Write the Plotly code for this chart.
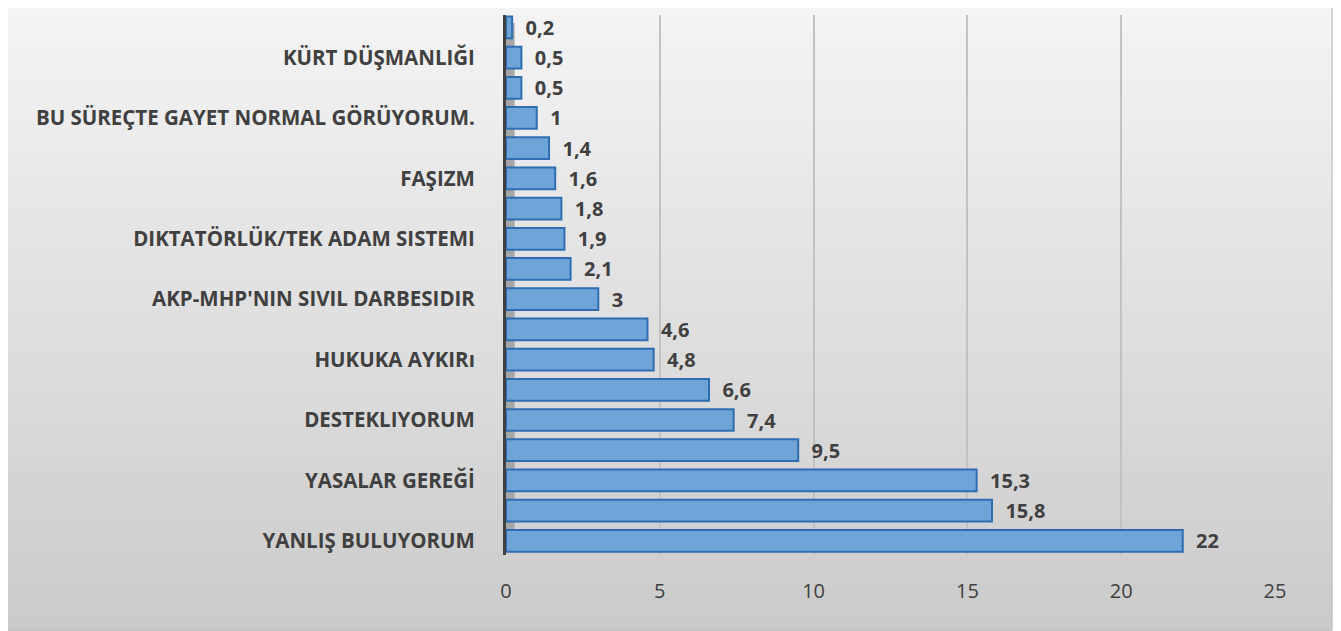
import plotly.graph_objects as go

# Data (bottom to top)
values = [22, 15.8, 15.3, 9.5, 7.4, 6.6, 4.8, 4.6, 3, 2.1, 1.9, 1.8, 1.6, 1.4, 1, 0.5, 0.5, 0.2]
labels = ["YANLIŞ BULUYORUM", "", "YASALAR GEREĞİ", "", "DESTEKLIYORUM", "",
          "HUKUKA AYKIRı", "", "AKP-MHP'NIN SIVIL DARBESIDIR", "",
          "DIKTATÖRLÜK/TEK ADAM SISTEMI", "", "FAŞIZM", "",
          "BU SÜREÇTE GAYET NORMAL GÖRÜYORUM.", "", "KÜRT DÜŞMANLIĞI", ""]
x_ticks = [0, 5, 10, 15, 20, 25]

positions = list(range(len(values)))
text = ["\u00a0\u00a0" + f"{v:g}".replace(".", ",") for v in values]
tick_pos = [p for p, l in zip(positions, labels) if l]
tick_txt = [l for l in labels if l]

FONT = "Open Sans"
fig = go.Figure()
fig.add_trace(go.Bar(
    x=values, y=positions, orientation="h",
    marker=dict(color="#6fa4d8", line=dict(color="#2e6db1", width=2)),
    width=0.72,
    text=text, textposition="outside", cliponaxis=False, constraintext="none",
    textfont=dict(family=FONT, size=20, color="#404040", weight="bold"),
    hoverinfo="skip",
))

# page offset compensation: figure drawn at (8,8) in window
W, H = 1333, 623
L, R, T, B = 498, 66, 7, 76
pw, ph = W - L - R, H - T - B
def px_x(x):
    return (x - 8 - L) / pw
def px_y(y):
    return (H - B - (y - 8)) / ph

shapes = []
n = 40
top = (244, 244, 244)
bot = (203, 203, 203)
x_l, x_r = px_x(5), px_x(1332)
y_top, y_bot = px_y(0), px_y(630)
for i in range(n):
    t = i / (n - 1)
    c = tuple(int(round(top[k] + (bot[k] - top[k]) * t)) for k in range(3))
    ya = y_top - (y_top - y_bot) * i / n
    yb = y_top - (y_top - y_bot) * (i + 1) / n
    shapes.append(dict(type="rect", xref="paper", yref="paper", x0=x_l, x1=x_r,
                       y0=yb - 0.002, y1=ya, fillcolor="rgb(%d,%d,%d)" % c,
                       line=dict(width=0), layer="below"))
shapes.append(dict(type="rect", xref="paper", yref="paper", x0=x_l, x1=x_r,
                   y0=y_bot, y1=y_top, line=dict(color="#bfbfbf", width=1),
                   fillcolor="rgba(0,0,0,0)", layer="below"))
# side wall
shapes.append(dict(type="rect", xref="x", yref="paper", x0=0, x1=0.28, y0=0.015, y1=0.985,
                   fillcolor="#a6a6a6", line=dict(width=0), layer="below"))

fig.update_layout(
    width=W, height=H,
    margin=dict(l=L, r=R, t=T, b=B),
    paper_bgcolor="#e2e2e2", plot_bgcolor="rgba(0,0,0,0)",
    showlegend=False, shapes=shapes,
    font=dict(family=FONT, color="#404040"),
    xaxis=dict(range=[0, 25], tickvals=x_ticks, ticktext=[str(t) for t in x_ticks],
               showgrid=True, gridcolor="#c2c2c2", gridwidth=1.5,
               zeroline=False, showline=False, ticks="",
               ticklabelstandoff=22,
               tickfont=dict(family=FONT, size=20, color="#404040")),
    yaxis=dict(range=[-0.47, 17.41], tickvals=tick_pos, ticktext=tick_txt,
               showgrid=False, zeroline=False, showline=True,
               linecolor="#404040", linewidth=3, ticks="",
               ticklabelstandoff=24,
               tickfont=dict(family=FONT, size=20.5, color="#404040", weight="bold")),
)

fig.write_html("out.html")
